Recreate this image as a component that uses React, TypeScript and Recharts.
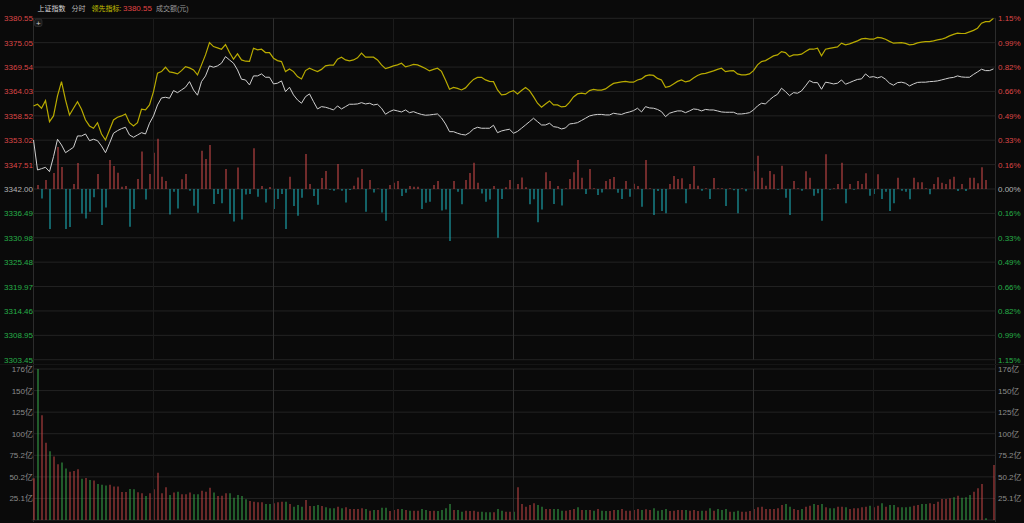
import React from 'react';
import {
  ComposedChart,
  Line,
  Bar,
  Cell,
  XAxis,
  YAxis,
  CartesianGrid,
  ReferenceLine
} from 'recharts';

// previous close of the index (zero line)
const PREV_CLOSE = 3342.0;

// left price ticks (right axis shows the same levels as % change)
const PRICE_TICKS = [
  3303.45, 3308.95, 3314.46, 3319.97, 3325.48, 3330.98, 3336.49, 3342.0,
  3347.51, 3353.02, 3358.52, 3364.03, 3369.54, 3375.05, 3380.55
];

// turnover axis (亿元)
const VOL_TICKS = [0, 25.1, 50.2, 75.3, 100.4, 125.5, 150.6, 175.7];
const VOL_LABELS = ['', '25.1亿', '50.2亿', '75.2亿', '100亿', '125亿', '150亿', '176亿'];

// minute index of the time grid lines (every 30 min), hourly ones are brighter
const HALF_HOURS = [30, 60, 90, 120, 150, 180, 210];
const HOURS = [60, 120, 180];

// 上证指数 minute price (white)
const PRICE = [
  3353.07, 3346.29, 3346.59, 3346.90, 3345.91, 3349.30, 3353.23, 3351.94, 3350.20, 3350.81,
  3351.42, 3353.98, 3353.98, 3354.43, 3352.92, 3353.23, 3352.92, 3351.72, 3350.20, 3352.33,
  3354.59, 3355.18, 3355.63, 3355.94, 3354.20, 3353.68, 3354.20, 3354.72, 3354.43, 3356.85,
  3358.50, 3360.98, 3362.57, 3362.72, 3362.50, 3364.22, 3363.76, 3364.37, 3364.98, 3366.25,
  3364.37, 3363.18, 3366.25, 3367.54, 3369.80, 3369.50, 3369.80, 3370.41, 3371.90, 3371.15,
  3370.41, 3368.89, 3366.79, 3366.63, 3365.50, 3367.54, 3367.54, 3367.99, 3367.24, 3367.24,
  3365.73, 3365.89, 3366.41, 3363.99, 3364.98, 3363.24, 3362.11, 3361.37, 3362.86, 3363.47,
  3361.73, 3360.08, 3360.60, 3360.46, 3360.19, 3359.85, 3360.76, 3360.08, 3360.60, 3361.14,
  3361.14, 3361.21, 3361.50, 3361.21, 3361.37, 3360.98, 3361.14, 3360.24, 3358.88, 3359.47,
  3359.85, 3359.63, 3359.40, 3359.85, 3359.24, 3359.47, 3359.11, 3358.84, 3358.66, 3358.72,
  3358.84, 3358.95, 3358.05, 3356.69, 3354.95, 3354.95, 3354.59, 3354.32, 3354.20, 3354.72,
  3355.56, 3355.94, 3355.72, 3355.72, 3355.72, 3356.40, 3354.72, 3355.11, 3355.33, 3355.49,
  3354.59, 3355.00, 3355.72, 3356.46, 3357.21, 3357.98, 3357.21, 3356.46, 3356.46, 3356.85,
  3356.08, 3355.94, 3355.56, 3355.79, 3356.69, 3356.80, 3356.98, 3357.48, 3357.98, 3358.50,
  3358.72, 3358.84, 3358.84, 3358.72, 3358.72, 3359.11, 3358.95, 3358.84, 3359.18, 3359.40,
  3359.70, 3360.24, 3359.40, 3360.60, 3360.31, 3360.24, 3359.97, 3359.47, 3358.34, 3359.11,
  3359.40, 3359.63, 3359.63, 3359.24, 3359.63, 3360.08, 3359.97, 3359.63, 3359.97, 3359.85,
  3359.85, 3359.63, 3359.40, 3359.33, 3359.33, 3359.33, 3358.95, 3358.95, 3359.06, 3359.24,
  3359.85, 3360.76, 3361.37, 3361.21, 3362.11, 3362.86, 3363.40, 3364.76, 3363.99, 3363.09,
  3363.76, 3363.63, 3364.15, 3365.28, 3366.48, 3366.02, 3366.02, 3364.53, 3366.12, 3365.96,
  3365.73, 3365.89, 3366.63, 3365.66, 3366.02, 3366.41, 3366.75, 3366.86, 3367.99, 3367.24,
  3367.38, 3367.09, 3367.38, 3366.79, 3365.89, 3365.44, 3366.02, 3366.12, 3365.89, 3365.28,
  3365.73, 3366.07, 3366.12, 3366.12, 3366.25, 3366.30, 3366.41, 3366.63, 3366.86, 3367.09,
  3367.20, 3367.54, 3367.31, 3367.24, 3367.24, 3367.88, 3368.44, 3369.05, 3368.74, 3368.74,
  3369.12
];

// 领先指标 (yellow)
const LEAD = [
  3360.76, 3361.14, 3360.24, 3361.96, 3357.21, 3358.50, 3363.02, 3366.25, 3362.11, 3358.72,
  3360.24, 3361.73, 3360.01, 3357.59, 3356.24, 3355.72, 3356.98, 3354.43, 3353.07, 3355.33,
  3357.59, 3358.20, 3358.50, 3358.95, 3356.98, 3356.24, 3356.98, 3360.01, 3359.85, 3360.98,
  3363.99, 3368.15, 3368.51, 3369.50, 3368.44, 3368.28, 3367.99, 3368.74, 3369.64, 3369.35,
  3368.89, 3367.77, 3370.03, 3372.29, 3375.07, 3374.16, 3373.87, 3373.57, 3374.61, 3372.81,
  3371.31, 3372.51, 3371.15, 3370.86, 3370.82, 3373.80, 3373.42, 3373.57, 3372.81, 3372.81,
  3371.54, 3371.00, 3370.77, 3368.51, 3369.12, 3368.51, 3367.38, 3366.86, 3368.74, 3369.28,
  3368.89, 3368.51, 3369.01, 3369.80, 3369.96, 3369.96, 3371.31, 3371.77, 3371.15, 3370.93,
  3371.15, 3371.61, 3372.67, 3371.77, 3371.77, 3371.77, 3371.15, 3370.03, 3369.19, 3369.46,
  3369.80, 3370.03, 3370.41, 3369.57, 3369.84, 3370.14, 3370.03, 3369.64, 3369.23, 3368.67,
  3369.01, 3369.28, 3368.56, 3366.63, 3364.53, 3364.94, 3364.71, 3364.37, 3364.83, 3365.84,
  3366.75, 3367.20, 3367.24, 3366.63, 3366.30, 3366.25, 3364.37, 3363.24, 3363.36, 3363.92,
  3364.22, 3363.47, 3364.26, 3364.94, 3364.22, 3362.86, 3361.37, 3360.46, 3361.21, 3361.89,
  3360.98, 3360.98, 3360.53, 3360.65, 3361.55, 3362.79, 3363.47, 3363.63, 3363.47, 3364.22,
  3364.49, 3364.31, 3364.33, 3364.60, 3365.28, 3365.84, 3366.02, 3366.18, 3366.30, 3366.12,
  3366.12, 3366.63, 3366.86, 3367.54, 3367.77, 3367.65, 3366.97, 3366.63, 3364.98, 3365.17,
  3365.73, 3366.30, 3366.63, 3366.18, 3366.41, 3367.09, 3367.65, 3367.99, 3368.10, 3368.38,
  3368.67, 3369.01, 3369.28, 3368.51, 3368.67, 3368.74, 3367.99, 3367.77, 3367.77, 3367.99,
  3368.74, 3370.03, 3370.77, 3371.00, 3371.54, 3372.06, 3372.29, 3373.03, 3372.81, 3371.90,
  3372.29, 3372.29, 3372.44, 3373.03, 3373.57, 3373.57, 3373.80, 3372.06, 3373.57, 3373.75,
  3373.94, 3374.09, 3374.93, 3374.55, 3374.77, 3375.11, 3375.45, 3375.90, 3376.02, 3375.83,
  3375.83, 3376.24, 3376.13, 3375.83, 3375.34, 3374.93, 3375.00, 3375.07, 3374.88, 3374.55,
  3374.66, 3375.00, 3375.15, 3375.29, 3375.29, 3375.45, 3375.67, 3375.83, 3376.13, 3376.58,
  3376.92, 3377.19, 3377.12, 3377.14, 3377.48, 3377.82, 3378.32, 3379.45, 3379.81, 3379.81,
  3380.55
];

// buy/sell strength bars around the zero line (red up, cyan down)
const FLOW = [
  0, 4, -9.5, 9, -40, 16, 42, 22, -40, -38,
  5, 26, -24.5, -29.5, -22.7, -8.3, 15, -36, -18.5, 29,
  23, 16.3, 2.3, 3, -37.7, -20, 10, 37.5, -10.5, 15,
  36.3, 50.3, 12.3, 8, -25.5, -2.7, -19.5, 9.7, 15, -1.7,
  -16.7, -23.7, 38.3, 30, 44, -15, -5, -14.3, 20, -25,
  -32.5, 21.5, -30.5, -5.5, -5, 40.7, -7.7, 3, -13.5, 2,
  -20, -10, -5, -40, 12.3, -17, -26.7, -8.7, 35, 5,
  -7, -15.7, 11, 18, -0.7, -1.7, 25, -1.7, -13.5, -1,
  3.3, 11.5, 20, -22.7, 9, -3.5, 0.5, -23.5, -31.7, 4,
  6.3, 8, -7, -3.7, 3, 2.3, 2.3, -20, -13.7, -12.7,
  4, 8, -21.5, -20.5, -52, 8, -2.7, -15.3, 9, 16,
  26.3, 6.3, -4.5, -12.7, -10.5, 3, -48.7, -10, 1.7, 9,
  0, 5, 11.5, 1.7, -15.3, -10.3, -33.3, -20.5, 16.7, 8,
  -15, 3, -16.5, 0.7, 10, 16.7, 29, 11.3, -5, 20,
  0.7, -6, -3.5, 8, 10, 12, -3.7, -10, 8, -7.7,
  5.3, 3, -17.7, 29, 0.7, -26, -2, -22, -24.3, 5,
  13, 10, 10.7, -14.3, 5, 23, 3.3, -1.7, 0.7, -10,
  11, 0.7, 0.7, -17, 0.7, -1.3, -24.3, 0.7, -2.3, 0,
  17.7, 33.3, 11.3, 3.3, 18, 14.7, -0.7, 23.3, -8.7, -26,
  8, 0.7, -1.7, 17.7, 11.3, -6.7, -4.3, -31.7, 34.7, -0.7,
  0.7, 5, 26.3, -14.3, 5, -0.7, 8, 5, 15.7, -6.7,
  -5, 14.7, -10, -2.7, -22, -14.3, 11.3, -1.7, -2.7, -10.3,
  11.3, 6.7, 6.7, 0.7, -5.3, 5, 11.7, 6.3, 5, 9.7,
  12.3, -2, 5, -2, 11.3, 11.3, 5.7, 21.7, 9, 0,
  0
];

// 成交额 per minute, 亿元
const VOLUME = [
  48.5, 175.7, 122, 90, 80, 74, 65, 67, 60, 56,
  57, 59, 48, 49, 46.5, 46, 42, 41, 40, 41,
  39, 39, 32.6, 32.6, 36, 35.7, 32.2, 31, 28, 31,
  35.7, 55, 31, 38, 29, 32, 33, 30, 30, 32,
  30, 30, 34, 33, 37.6, 32, 28, 28.3, 31, 31,
  26, 29, 28, 24, 22, 21.3, 20.6, 20.6, 18.6, 18.6,
  19.4, 20.6, 21.3, 21.3, 18.6, 15.5, 17.5, 15.5, 23.3, 16.3,
  16.3, 17.5, 16.3, 14.7, 13.6, 13.6, 15.5, 13.6, 14.7, 12.8,
  12.8, 12.8, 13.6, 12.8, 10.9, 11.6, 11.6, 14.3, 14.3, 10.5,
  11.6, 12.8, 12.8, 11.6, 10.9, 10.9, 10.9, 12.8, 11.6, 10.5,
  10.9, 10.5, 11.6, 13.6, 18.6, 11.6, 11.6, 9.7, 10.9, 10.5,
  10.9, 9.7, 9.7, 8.9, 8.9, 8.9, 12.8, 10.9, 9.7, 9.7,
  9.7, 38, 18.6, 15.5, 17.5, 19.4, 17.5, 15.5, 12.8, 12.8,
  12.8, 12.8, 10.9, 10.9, 11.6, 12.8, 14.7, 11.6, 11.6, 11.6,
  10.9, 12.8, 10.9, 10.5, 10.5, 11.6, 11.6, 12.8, 10.9, 10.9,
  11.6, 12.8, 11.6, 12.4, 11.6, 13.6, 10.9, 11.6, 12.8, 10.5,
  10.9, 11.6, 11.6, 11.6, 10.9, 11.6, 10.5, 10.9, 10.9, 13.6,
  10.9, 12.8, 11.6, 12.8, 9.7, 9.7, 10.9, 9.7, 9.7, 10.5,
  12.8, 14.7, 15.5, 12.8, 12.8, 12.8, 13.6, 17.5, 18.6, 15.5,
  12.8, 11.6, 12.8, 15.5, 16.7, 18.6, 17.5, 18.6, 14.7, 13.6,
  13.6, 15.5, 15.5, 14.7, 12.8, 13.6, 13.6, 14.7, 15.5, 16.7,
  14.7, 16.7, 19.4, 15.5, 17.5, 17.5, 14.7, 14.7, 14.7, 15.5,
  16.7, 17.5, 18.6, 18.6, 19.4, 18.6, 21.3, 24.4, 24.4, 25.2,
  26.4, 28.3, 26, 26.4, 29.1, 33, 36.9, 41.9, 1.9, 0,
  64
];

// R = up minute (red), G = down minute (green)
const VOL_DIR = (
  'RGRRGRRGGR' + 'RRGRGRGGGR' + 'RRRRGGRRGR' + 'RRRRGRGRRR' + 'GGRRRGRRRG' +
  'GGGGRRRRGG' + 'RRRGRGGGRR' + 'GGRGGGRGRR' + 'RRRGRGRGGR' + 'RRGRGRRGGR' +
  'RGGGGRGGRR' + 'RRGGGRGGRR' + 'GRRRRRGGRR' + 'GGGRRRGRGR' + 'GRGGRRGRRR' +
  'RRGRRGGGGR' + 'RRRGRRRGRG' + 'RGGGRGGRRR' + 'RRRRRRRRGG' + 'RRGRRGRGRG' +
  'GRRGRRRRRG' + 'RRGRGGRGGG' + 'RRGGRRRRRR' + 'GRGGGRRRGR' + 'R'
).split('');

const BG = '#0a0a0a';
const GRID = '#232323';
const GRID_HALF = '#1b1b1b';
const GRID_HOUR = '#2e2e2e';
const TXT_RED = '#dc4646';
const TXT_GREEN = '#26ad48';
const TXT_GRAY = '#b4b4b4';
const TXT_VOL = '#8c8c8c';
const FONT = "'Liberation Sans', Arial, 'Noto Sans CJK SC', sans-serif";

const data = PRICE.map((p, i) => ({
  i,
  price: p,
  lead: LEAD[i],
  flow: FLOW[i],
  vol: VOLUME[i],
  up: VOL_DIR[i] === 'R'
}));

const priceColor = (v: number) =>
  v > PREV_CLOSE + 0.001 ? TXT_RED : v < PREV_CLOSE - 0.001 ? TXT_GREEN : TXT_GRAY;

const LeftPriceTick = ({ x, y, payload }: any) => (
  <text x={x + 1.5} y={y} dy={3} textAnchor="end" fontSize={8} fontFamily={FONT} fill={priceColor(payload.value)}>
    {payload.value.toFixed(2)}
  </text>
);

const PctTick = ({ x, y, payload }: any) => {
  const pct = Math.abs(((payload.value - PREV_CLOSE) / PREV_CLOSE) * 100);
  return (
    <text x={x + 2.5} y={y} dy={3} textAnchor="start" fontSize={8} fontFamily={FONT} fill={priceColor(payload.value)}>
      {pct.toFixed(2)}%
    </text>
  );
};

const volLabel = (v: number) => VOL_LABELS[VOL_TICKS.indexOf(v)] ?? '';

const LeftVolTick = ({ x, y, payload }: any) => (
  <text x={x + 1.5} y={y} dy={3} textAnchor="end" fontSize={8} fontFamily={FONT} fill={TXT_VOL}>
    {volLabel(payload.value)}
  </text>
);

const RightVolTick = ({ x, y, payload }: any) => (
  <text x={x + 2.5} y={y} dy={3} textAnchor="start" fontSize={8} fontFamily={FONT} fill={TXT_VOL}>
    {volLabel(payload.value)}
  </text>
);

export default function App() {
  return (
    <div style={{ position: 'fixed', left: 0, top: 0, width: 1024, height: 523, background: BG, overflow: 'hidden' }}>
      {/* frame */}
      <svg style={{ position: 'absolute', left: 0, top: 0 }} width={1024} height={523}>
        <line x1={33.5} y1={18} x2={33.5} y2={522} stroke="#2c2c2c" />
        <line x1={995.5} y1={18} x2={995.5} y2={522} stroke="#2c2c2c" />
        <line x1={0} y1={364.5} x2={1024} y2={364.5} stroke="#151515" />
      </svg>

      {/* price panel */}
      <div style={{ position: 'absolute', left: 0, top: 0 }}>
        <ComposedChart width={1024} height={368} data={data} margin={{ top: 18.3, right: 0, bottom: 8.3, left: 0 }}>
          <CartesianGrid yAxisId="price" vertical={false} stroke={GRID} />
          <XAxis dataKey="i" type="category" hide />
          <YAxis
            yAxisId="price"
            domain={[3303.45, 3380.55]}
            ticks={PRICE_TICKS}
            allowDataOverflow
            interval={0}
            width={31.5}
            tickSize={0}
            tickMargin={0}
            axisLine={false}
            tickLine={false}
            tick={(p: any) => <LeftPriceTick {...p} />}
          />
          <YAxis
            yAxisId="pct"
            orientation="right"
            domain={[3303.45, 3380.55]}
            ticks={PRICE_TICKS}
            allowDataOverflow
            interval={0}
            width={28.5}
            tickSize={0}
            tickMargin={0}
            axisLine={false}
            tickLine={false}
            tick={(p: any) => <PctTick {...p} />}
          />
          <YAxis yAxisId="flow" hide width={0} domain={[-170.7, 170.7]} allowDataOverflow />
          {HALF_HOURS.map((m) => (
            <ReferenceLine key={m} yAxisId="price" x={m} stroke={HOURS.includes(m) ? GRID_HOUR : GRID_HALF} />
          ))}
          <Bar yAxisId="flow" dataKey="flow" barSize={1} isAnimationActive={false}>
            {data.map((d) => (
              <Cell key={d.i} fill={d.flow >= 0 ? '#d84c4c' : '#1cbac4'} />
            ))}
          </Bar>
          <Line
            yAxisId="price"
            type="linear"
            dataKey="price"
            stroke="#d0d0d0"
            strokeWidth={1}
            dot={false}
            activeDot={false}
            isAnimationActive={false}
          />
          <Line
            yAxisId="price"
            type="linear"
            dataKey="lead"
            stroke="#b8aa00"
            strokeWidth={1.2}
            dot={false}
            activeDot={false}
            isAnimationActive={false}
          />
        </ComposedChart>
      </div>

      {/* turnover panel */}
      <div style={{ position: 'absolute', left: 0, top: 362 }}>
        <ComposedChart width={1024} height={161} data={data} margin={{ top: 7, right: 0, bottom: 3, left: 0 }}>
          <CartesianGrid yAxisId="vol" vertical={false} stroke={GRID} />
          <XAxis dataKey="i" type="category" hide />
          <YAxis
            yAxisId="vol"
            domain={[0, 175.7]}
            ticks={VOL_TICKS}
            allowDataOverflow
            interval={0}
            width={31.5}
            tickSize={0}
            tickMargin={0}
            axisLine={false}
            tickLine={false}
            tick={(p: any) => <LeftVolTick {...p} />}
          />
          <YAxis
            yAxisId="vol2"
            orientation="right"
            domain={[0, 175.7]}
            ticks={VOL_TICKS}
            allowDataOverflow
            interval={0}
            width={28.5}
            tickSize={0}
            tickMargin={0}
            axisLine={false}
            tickLine={false}
            tick={(p: any) => <RightVolTick {...p} />}
          />
          {HALF_HOURS.map((m) => (
            <ReferenceLine key={m} yAxisId="vol" x={m} stroke={HOURS.includes(m) ? GRID_HOUR : GRID_HALF} />
          ))}
          <Bar yAxisId="vol" dataKey="vol" barSize={1} isAnimationActive={false}>
            {data.map((d) => (
              <Cell key={d.i} fill={d.up ? '#c84747' : '#38ab4a'} />
            ))}
          </Bar>
        </ComposedChart>
      </div>

      {/* title row + cursor icon */}
      <svg style={{ position: 'absolute', left: 0, top: 0, pointerEvents: 'none' }} width={1024} height={30}>
        <text x={37.5} y={11} fontSize={7} fontFamily={FONT} fill="#d6d6d6">上证指数</text>
        <text x={71.5} y={11} fontSize={7} fontFamily={FONT} fill="#b8b8b8">分时</text>
        <text x={91.5} y={11} fontSize={7} fontFamily={FONT} fill="#c8c400">领先指标:</text>
        <text x={123} y={11} fontSize={8} fontFamily={FONT} fill="#e04444">3380.55</text>
        <text x={156} y={11} fontSize={7} fontFamily={FONT} fill="#9a9a9a">成交额(元)</text>
        <rect x={34.5} y={19} width={7.5} height={7.5} rx={2} fill="#1a1a1a" stroke="#3a3a3a" strokeWidth={0.6} />
        <text x={38.25} y={25.5} fontSize={8} textAnchor="middle" fontFamily={FONT} fill="#cfcfcf">+</text>
      </svg>
    </div>
  );
}
